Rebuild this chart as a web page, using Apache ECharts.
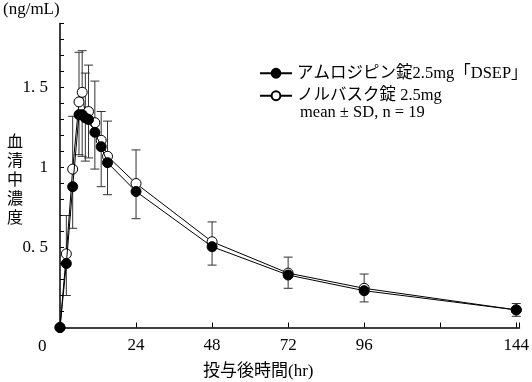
<!DOCTYPE html>
<html>
<head>
<meta charset="utf-8">
<script src="https://cdn.jsdelivr.net/npm/echarts@6/dist/echarts.min.js"></script>
<style>html,body{margin:0;padding:0;background:#fff}#c{width:532px;height:382px}</style>
</head>
<body>
<div id="c"></div>
<script>
// hours after dosing
const times = [0, 2, 4, 6, 7, 8, 9, 11, 13, 15, 24, 48, 72, 96, 144];
// アムロジピン錠2.5mg「DSEP」 mean and mean-SD
const dsepMean  = [0, 0.40, 0.88, 1.33, 1.33, 1.31, 1.30, 1.22, 1.13, 1.03, 0.85, 0.505, 0.328, 0.23, 0.11];
const dsepLower = [0, 0.20, 0.62, 1.08, 1.07, 1.04, 1.06, 0.99, 0.88, 0.83, 0.68, 0.39, 0.245, 0.16, 0.07];
// ノルバスク錠 2.5mg mean and mean+SD
const norvMean  = [0, 0.46, 0.99, 1.41, 1.47, 1.33, 1.35, 1.28, 1.17, 1.07, 0.90, 0.536, 0.34, 0.245, 0.11];
const norvUpper = [0, 0.70, 1.32, 1.72, 1.73, 1.59, 1.64, 1.54, 1.35, 1.29, 1.11, 0.66, 0.44, 0.334, 0.15];
const xTickLabels = {24: '24', 48: '48', 72: '72', 96: '96', 144: '144'};
const yTickLabels = {5: '0. 5', 10: '1', 15: '1. 5'};
const seriesNames = ['アムロジピン錠2.5mg「DSEP」', 'ノルバスク錠 2.5mg'];

const serif = "'Liberation Serif','Noto Sans CJK JP',serif";
const chart = echarts.init(document.getElementById('c'));

function errBar(params, api) {
  const x = api.value(0), y = api.value(1), e = api.value(2);
  if (y === e) return null;
  const p0 = api.coord([x, y]), p1 = api.coord([x, e]);
  const st = {stroke: '#333', lineWidth: 1};
  return {type: 'group', children: [
    {type: 'line', shape: {x1: p0[0], y1: p0[1], x2: p1[0], y2: p1[1]}, style: st},
    {type: 'line', shape: {x1: p1[0] - 4.5, y1: p1[1], x2: p1[0] + 4.5, y2: p1[1]}, style: st}
  ]};
}

chart.setOption({
  animation: false,
  backgroundColor: '#fff',
  grid: {left: 60, top: 23.5, width: 461, height: 304},
  xAxis: {
    type: 'value', min: 0, max: 145, interval: 24,
    axisLine: {lineStyle: {color: '#000', width: 1.5}},
    axisTick: {inside: true, length: 5, lineStyle: {color: '#000', width: 1}},
    splitLine: {show: false},
    axisLabel: {color: '#000', fontSize: 17, fontFamily: serif, margin: 10,
      formatter: v => xTickLabels[Math.round(v)] || ''}
  },
  yAxis: {
    type: 'value', min: 0, max: 1.9, interval: 0.1,
    axisLine: {show: true, lineStyle: {color: '#000', width: 1.5}},
    axisTick: {show: true, inside: true, length: 4, lineStyle: {color: '#000', width: 1}},
    splitLine: {show: false},
    axisLabel: {color: '#000', fontSize: 17, fontFamily: serif, margin: 12,
      formatter: v => yTickLabels[Math.round(v * 10)] || ''}
  },
  legend: {
    orient: 'vertical', left: 254, top: 60, itemGap: 6,
    itemWidth: 32, itemHeight: 11,
    textStyle: {color: '#000', fontSize: 16.5, fontFamily: serif},
    data: [seriesNames[0], seriesNames[1]]
  },
  graphic: [
    {type: 'text', left: 3, top: 1, style: {text: '(ng/mL)', font: "17px " + serif, fill: '#000'}},
    {type: 'text', left: 7, top: 131, style: {text: '血\n清\n中\n濃\n度', font: "16px 'Noto Sans CJK JP'", lineHeight: 19, fill: '#000'}},
    {type: 'text', left: 38, top: 338, style: {text: '0', font: "17px " + serif, fill: '#000'}},
    {type: 'text', left: 203, top: 363, style: {text: '投与後時間(hr)', font: "17px " + serif, fill: '#000'}},
    {type: 'text', left: 300, top: 104, style: {text: 'mean ± SD, n = 19', font: "16.5px " + serif, fill: '#000'}}
  ],
  series: [
    {type: 'custom', renderItem: errBar, z: 1, silent: true,
      data: times.map((t, i) => [t, norvMean[i], norvUpper[i]])},
    {type: 'custom', renderItem: errBar, z: 1, silent: true,
      data: times.map((t, i) => [t, dsepMean[i], dsepLower[i]])},
    {name: seriesNames[1], type: 'line', z: 3, symbol: 'circle', symbolSize: 10,
      lineStyle: {color: '#000', width: 1},
      itemStyle: {color: '#fff', borderColor: '#000', borderWidth: 1},
      data: times.map((t, i) => [t, norvMean[i]])},
    {name: seriesNames[0], type: 'line', z: 4, symbol: 'circle', symbolSize: 10,
      lineStyle: {color: '#000', width: 1},
      itemStyle: {color: '#000', borderColor: '#000', borderWidth: 1},
      data: times.map((t, i) => [t, dsepMean[i]])}
  ]
});
</script>
</body>
</html>
